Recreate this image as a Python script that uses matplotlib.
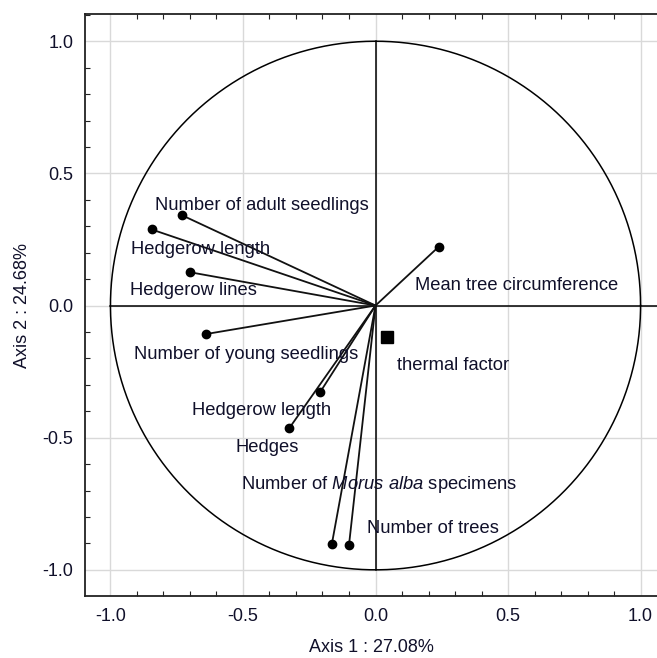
import numpy as np
import matplotlib
matplotlib.use("Agg")
import matplotlib.pyplot as plt
from matplotlib.ticker import MultipleLocator

plt.rcParams['font.family'] = ['Liberation Sans', 'DejaVu Sans']
plt.rcParams['mathtext.fontset'] = 'custom'
plt.rcParams['mathtext.rm'] = 'Liberation Sans'
plt.rcParams['mathtext.it'] = 'Liberation Sans:italic'

# Variable loadings (Axis 1, Axis 2)
var_labels = ["Number of adult seedlings", "Hedgerow length", "Hedgerow lines",
              "Mean tree circumference", "Number of young seedlings", "Hedgerow length",
              "Hedges", r"Number of $\mathit{Morus\ alba}$ specimens", "Number of trees"]
var_x = [-0.731, -0.845, -0.700, 0.238, -0.640, -0.209, -0.326, -0.165, -0.100]
var_y = [0.342, 0.288, 0.126, 0.222, -0.108, -0.328, -0.465, -0.904, -0.906]

# Label anchor positions (left, center) in data coords
lab_x = [-0.832, -0.923, -0.928, 0.149, -0.911, -0.691, -0.528, -0.509, -0.033]
lab_y = [0.380, 0.212, 0.055, 0.074, -0.185, -0.396, -0.536, -0.677, -0.843]

# Supplementary factor
sup_label = "thermal factor"
sup_x = [0.042]
sup_y = [-0.120]
sup_lab_x = 0.080
sup_lab_y = -0.226

xlabel = "Axis 1 : 27.08%"
ylabel = "Axis 2 : 24.68%"

txt_color = '#10102a'
fs = 13.2

fig = plt.figure(figsize=(6.57, 6.58), dpi=100)
ax = fig.add_axes([85/657, 62/658, (657-85)/657, (596-14)/658])
ax.set_xlim(-1.096, 1.062)
ax.set_ylim(-1.099, 1.103)

ax.xaxis.set_major_locator(MultipleLocator(0.5))
ax.yaxis.set_major_locator(MultipleLocator(0.5))
ax.xaxis.set_minor_locator(MultipleLocator(0.1))
ax.yaxis.set_minor_locator(MultipleLocator(0.1))
ax.grid(True, which='major', color='#d9d9d9', lw=1.0, zorder=0)
ax.set_axisbelow(True)
ax.tick_params(which='both', direction='in', top=True, right=False, colors='#222222',
               labelcolor=txt_color, labelsize=13)
ax.tick_params(which='major', length=0, pad=8.5)
ax.tick_params(which='minor', length=3.5, width=0.8)
ax.spines['right'].set_visible(False)
for s in ['left', 'top', 'bottom']:
    ax.spines[s].set_linewidth(1.3)
    ax.spines[s].set_color('#222222')

fmt = lambda v: f"{v:.1f}"
ax.set_xticks([-1.0, -0.5, 0.0, 0.5, 1.0])
ax.set_xticklabels([fmt(v) for v in [-1.0, -0.5, 0.0, 0.5, 1.0]])
ax.set_yticks([-1.0, -0.5, 0.0, 0.5, 1.0])
ax.set_yticklabels([fmt(v) for v in [-1.0, -0.5, 0.0, 0.5, 1.0]])

# unit circle
t = np.linspace(0, 2*np.pi, 400)
ax.plot(np.cos(t), np.sin(t), color='black', lw=1.1, zorder=2)
# axes lines
ax.plot([-1.0, 1.1], [0, 0], color='black', lw=1.1, zorder=2)
ax.plot([0, 0], [-1.0, 1.0], color='black', lw=1.1, zorder=2)

for x, y in zip(var_x, var_y):
    ax.plot([0, x], [0, y], color='#111111', lw=1.3, zorder=3)
ax.plot(var_x, var_y, 'o', color='black', ms=6, zorder=4, linestyle='none')
ax.plot(sup_x, sup_y, 's', color='black', ms=9, zorder=4, linestyle='none')

for lab, x, y in zip(var_labels, lab_x, lab_y):
    ax.text(x, y, lab, ha='left', va='center', fontsize=fs, color=txt_color, zorder=5)
ax.text(sup_lab_x, sup_lab_y, sup_label, ha='left', va='center', fontsize=fs,
        color=txt_color, zorder=5)

ax.set_xlabel(xlabel, fontsize=13, color=txt_color, labelpad=10)
ax.set_ylabel(ylabel, fontsize=13, color=txt_color, labelpad=8)

fig.savefig("out.png", dpi=100)
